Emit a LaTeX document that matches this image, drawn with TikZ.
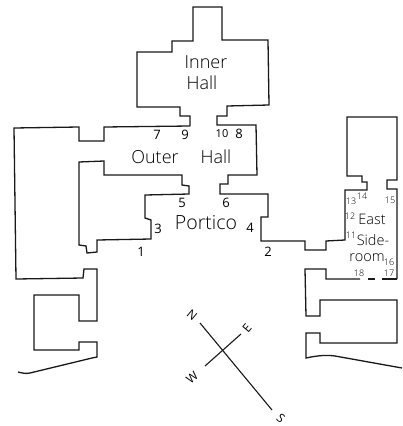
\documentclass[tikz,border=0pt]{standalone}
\usepackage{fontspec}
\setmainfont{Open Sans Light}[BoldFont={Open Sans}]
\newfontfamily\numfont{Open Sans}
\tikzset{
  wall/.style={line width=1.3pt,line join=miter,black!90},
  thinwall/.style={line width=1.1pt,black!90},
  big/.style={font=\fontsize{18}{18}\selectfont,inner sep=0pt},
  bigger/.style={font=\fontsize{19.5}{20}\selectfont,inner sep=0pt},
  num/.style={font=\numfont\fontsize{13}{13}\selectfont,inner sep=0pt},
  tiny/.style={font=\fontsize{9}{9}\selectfont,inner sep=0pt},
  pt/.style={font=\fontsize{14.5}{14}\selectfont,inner sep=0pt},
  cmp/.style={font=\numfont\fontsize{12}{12}\selectfont,inner sep=0pt}
}
\begin{document}
\begin{tikzpicture}[x=1pt,y=-1pt]
\useasboundingbox (0,0) rectangle (403,426);
% main walls
\draw[wall] (190,126) -- (190,116) -- (180,116) -- (180,107) -- (137,107) -- (137,52) -- (172,52) -- (172,41) -- (193,41) -- (193,7) -- (222,7) -- (222,40) -- (268,40) -- (269,105) -- (227,106) -- (227,116) -- (217,116) -- (217,125) -- (256,125) -- (257,175) -- (228,175) -- (228,184) -- (220,184) -- (220,194) -- (268,194) -- (268,217) -- (261,217) -- (261,241) -- (305,241) -- (305,250) -- (326,250) -- (326,241) -- (345,240) -- (345,190) -- (367,190) -- (367,182) -- (362,182) -- (362,176) -- (347,176) -- (347,117) -- (397,117) -- (397,180) -- (387,180) -- (387,189) -- (397,189) -- (397,279);
\draw[wall] (190,126) -- (104,127) -- (104,141) -- (79,141) -- (79,127) -- (14,128) -- (16,279) -- (83,278) -- (84,269) -- (97,269) -- (97,321) -- (79,321) -- (79,295) -- (34,295) -- (34,350) -- (79,350) -- (79,342) -- (97,342) -- (97,357) -- (92,358) -- (30,373) .. controls (26,374) and (22,373) .. (18,372);
\draw[wall] (79,162) -- (104,161) -- (104,175) -- (182,175) -- (182,185) -- (189,186) -- (189,194) -- (145,195) -- (145,218) -- (151,220) -- (151,239) -- (97,240) -- (97,252) -- (87,253) -- (86,246) -- (79,245) -- cycle;
\draw[wall] (360,279) -- (326,279) -- (326,269) -- (305,269) -- (306,316) -- (320,316) -- (320,300) -- (397,300) -- (397,343) -- (320,343) -- (320,333) -- (306,333) -- (306,358) .. controls (320,355) and (328,355) .. (335,356) -- (402,368);
\draw[wall] (368,279) -- (375,279) (382,279) -- (397,279);
% compass
\coordinate (nEnd) at (200,323);
\coordinate (sEnd) at (272,410);
\coordinate (wEnd) at (205,366);
\coordinate (eEnd) at (241,334);
\draw[thinwall] (nEnd) -- (sEnd);
\draw[thinwall] (wEnd) -- (eEnd);
\node[cmp,rotate=-40] (cn) at (192,315) {N};
\node[cmp,rotate=50] (ce) at (247,328) {E};
\node[cmp,rotate=40] (cw) at (192,378) {W};
\node[cmp,rotate=-40] (cs) at (281,418) {S};
% room names
\node[big] (inner) at (206,62) {Inner};
\node[big] (ihall) at (202,83) {Hall};
\node[big] (outer) at (155,157) {Outer};
\node[big] (ohall) at (216,157) {Hall};
\node[bigger] (portico) at (206,223) {Portico};
\node[pt] (east) at (372,219) {East};
\node[pt] (side) at (373,240) {Side-};
\node[pt] (room) at (367,258) {room};
% numbers
\node[num] (n7) at (157,135) {7};
\node[num] (n9) at (185,135) {9};
\node[num,font=\numfont\fontsize{11}{11}\selectfont] (n10) at (222,134) {10};
\node[num] (n8) at (239,134) {8};
\node[num] (n5) at (182,203) {5};
\node[num] (n6) at (226,203) {6};
\node[num] (n3) at (158,229) {3};
\node[num] (n4) at (250,228) {4};
\node[num] (n1) at (141,252) {1};
\node[num] (n2) at (268,252) {2};
\node[tiny] (n13) at (351,201) {13};
\node[tiny] (n14) at (362,196) {14};
\node[tiny] (n15) at (390,200) {15};
\node[tiny] (n12) at (350,216) {12};
\node[tiny] (n11) at (351,235) {11};
\node[tiny] (n16) at (389,262) {16};
\node[tiny] (n18) at (359,273) {18};
\node[tiny] (n17) at (389,273) {17};
\end{tikzpicture}
\end{document}
